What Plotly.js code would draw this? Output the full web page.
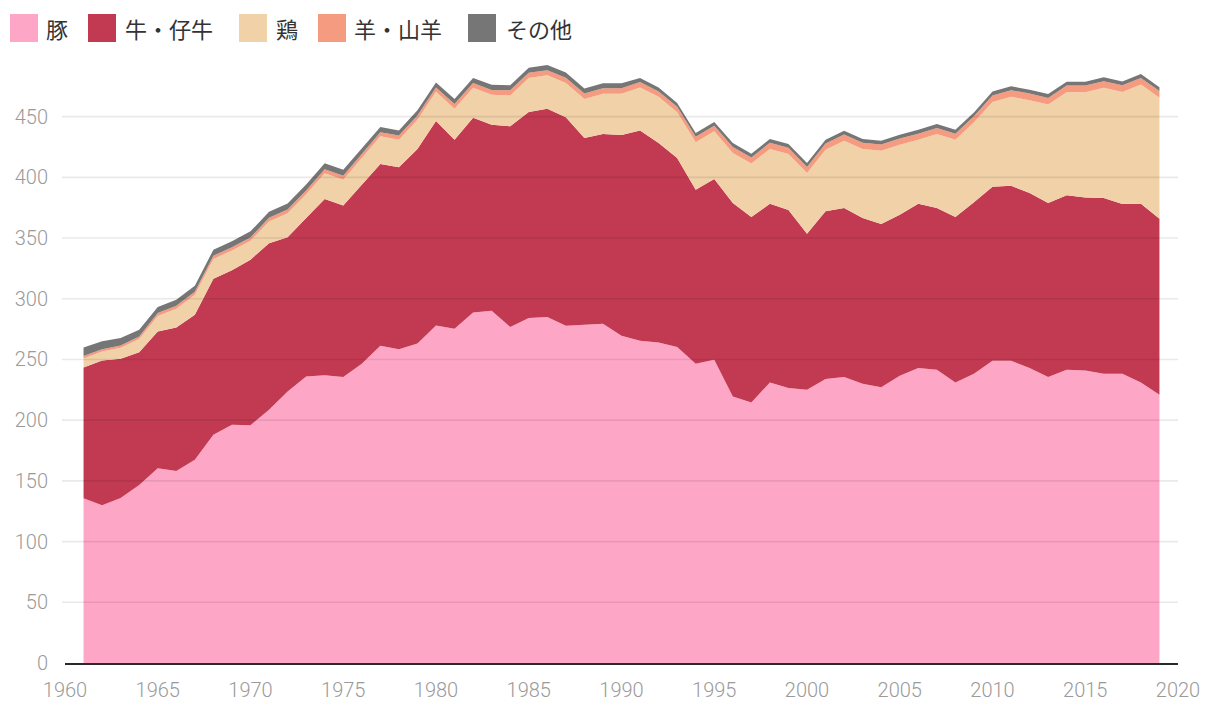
<!DOCTYPE html>
<html>
<head>
<meta charset="utf-8">
<script src="https://cdn.plot.ly/plotly-3.0.1.min.js"></script>
<style>
html,body{margin:0;padding:0;background:#fff;}
#chart{width:1220px;height:716px;}
</style>
</head>
<body>
<div id="chart"></div>
<script>
const years = [1961,1962,1963,1964,1965,1966,1967,1968,1969,1970,
  1971,1972,1973,1974,1975,1976,1977,1978,1979,1980,
  1981,1982,1983,1984,1985,1986,1987,1988,1989,1990,
  1991,1992,1993,1994,1995,1996,1997,1998,1999,2000,
  2001,2002,2003,2004,2005,2006,2007,2008,2009,2010,
  2011,2012,2013,2014,2015,2016,2017,2018,2019];

const seriesNames = ["豚", "牛・仔牛", "鶏", "羊・山羊", "その他"];

const pork = [135.7,130.0,136.0,146.7,160.5,158.2,167.3,187.9,196.2,195.9,
  208.5,223.6,236.0,237.1,235.5,246.4,261.3,258.5,263.2,277.9,
  275.2,288.7,290.1,276.7,284.1,284.9,277.8,278.3,279.4,269.5,
  265.4,264.0,260.2,246.4,249.7,219.5,214.6,231.0,226.4,225.0,
  234.0,235.5,230.0,227.2,236.5,242.9,241.5,231.0,238.2,248.9,
  248.9,242.9,235.5,241.5,240.9,238.2,238.2,231.0,220.9];

const beef = [107.7,119.2,114.6,109.3,112.6,118.2,119.5,128.6,127.2,136.3,
  137.3,127.0,130.5,145.1,141.4,147.6,149.7,149.8,160.2,168.6,
  155.8,160.3,153.3,165.3,169.8,171.5,171.6,154.1,156.3,165.3,
  173.1,164.3,155.7,143.4,148.9,159.3,152.7,147.3,146.8,128.5,
  138.0,139.2,136.5,134.3,132.7,135.4,133.2,136.3,141.2,143.4,
  144.2,144.2,143.3,143.7,142.6,144.8,139.8,147.3,145.0];

const chicken = [7.4,7.3,9.0,10.8,12.8,15.4,16.4,16.3,16.3,15.5,
  17.9,19.9,19.5,21.2,21.1,21.9,22.8,22.7,24.1,24.0,
  25.4,24.7,24.6,25.5,28.0,27.6,28.4,32.2,33.2,34.0,
  35.6,38.0,37.7,39.1,39.3,41.2,44.0,45.1,46.1,50.1,
  50.8,55.5,56.9,60.5,57.7,52.7,61.0,63.7,65.9,69.7,
  73.2,76.4,81.1,84.9,86.6,90.7,92.3,98.1,99.7];

const sheep = [2.0,2.0,2.0,2.2,2.3,2.4,2.5,2.6,2.7,2.8,
  3.0,3.0,3.2,3.2,3.3,3.3,3.4,3.4,3.5,3.5,
  4.0,4.0,4.0,4.2,4.2,4.3,4.3,4.4,4.4,4.5,
  4.5,4.5,4.5,4.5,4.5,5.0,5.0,5.0,5.0,5.0,
  5.0,5.0,5.0,5.0,5.0,5.0,5.0,5.0,5.0,5.5,
  5.5,5.5,5.5,5.5,5.5,5.5,5.5,5.5,5.5];

const other = [7.0,6.5,6.0,5.5,5.0,5.0,5.0,5.0,5.0,5.0,
  5.0,5.0,5.0,5.0,5.0,4.2,4.2,4.2,4.2,4.2,
  4.2,4.2,4.2,4.2,4.2,4.2,4.2,4.2,4.2,4.2,
  3.2,3.2,3.2,3.2,3.2,3.2,3.2,3.2,3.2,3.2,
  3.2,3.2,3.2,3.2,3.2,3.2,3.2,3.2,3.2,3.2,
  3.2,3.2,3.2,3.2,3.2,3.2,3.2,3.2,3.2];

const yTicks = [0,50,100,150,200,250,300,350,400,450];
const xTicks = [1960,1965,1970,1975,1980,1985,1990,1995,2000,2005,2010,2015,2020];

const fillColors = ["#fea6c6","#c13a52","#f1d1a8","#f59c80","#767676"];
const seriesValues = [pork, beef, chicken, sheep, other];

const traces = seriesValues.map((vals, i) => ({
  type: "scatter",
  mode: "lines",
  x: years,
  y: vals,
  name: seriesNames[i],
  stackgroup: "one",
  line: {width: 0, color: fillColors[i]},
  fillcolor: fillColors[i],
  showlegend: false,
  hoverinfo: "x+y+name"
}));

// Layout geometry (pixels)
const W = 1220, H = 716;
const mL = 65, mR = 42, mT = 62, mB = 53;
const plotW = W - mL - mR, plotH = H - mT - mB;
const px2x = p => (p - mL) / plotW;
const px2y = p => (H - mB - p) / plotH;

const shapes = [], annotations = [];
// gridlines drawn above the areas (semi-transparent), as in the reference
yTicks.filter(v => v > 0).forEach(v => {
  shapes.push({type:"line", xref:"paper", yref:"y", x0: px2x(62), x1: 1, y0: v, y1: v,
    layer:"above", line:{color:"rgba(0,0,0,0.085)", width:1.6}});
});

const legendSquares = [[10,38],[88,116],[239,267],[318,346],[468,496]];
const legendText = [44,123,274,352,504];
seriesNames.forEach((n, i) => {
  shapes.push({type:"rect", xref:"paper", yref:"paper",
    x0: px2x(legendSquares[i][0]), x1: px2x(legendSquares[i][1]),
    y0: px2y(42), y1: px2y(14),
    fillcolor: fillColors[i], line:{width:0}});
  annotations.push({xref:"paper", yref:"paper", x: px2x(legendText[i]), y: px2y(28),
    xanchor:"left", yanchor:"middle", showarrow:false, text: n,
    font:{family:"Noto Sans CJK JP, sans-serif", size:22, color:"#333"}});
});

const layout = {
  width: W, height: H,
  margin: {l: mL, r: mR, t: mT, b: mB, pad: 0},
  paper_bgcolor: "#fff", plot_bgcolor: "#fff",
  showlegend: false,
  xaxis: {
    range: [1960, 2020], tickvals: xTicks, ticktext: xTicks.map(String),
    showgrid: false, zeroline: false,
    showline: true, linecolor: "#2a2a2a", linewidth: 2, layer: "above traces",
    ticks: "outside", ticklen: 8, tickcolor: "rgba(0,0,0,0)",
    tickfont: {family: "Roboto, Liberation Sans, sans-serif", size: 20, color: "#9a9a9a", weight: 300}
  },
  yaxis: {
    range: [0, 495], tickvals: yTicks, ticktext: yTicks.map(String),
    showgrid: false,
    zeroline: false, showline: false,
    ticks: "outside", ticklen: 12, tickcolor: "rgba(0,0,0,0)",
    tickfont: {family: "Roboto, Liberation Sans, sans-serif", size: 20, color: "#9a9a9a", weight: 300}
  },
  shapes: shapes,
  annotations: annotations
};

Plotly.newPlot("chart", traces, layout, {displayModeBar: false, staticPlot: true});
</script>
</body>
</html>
